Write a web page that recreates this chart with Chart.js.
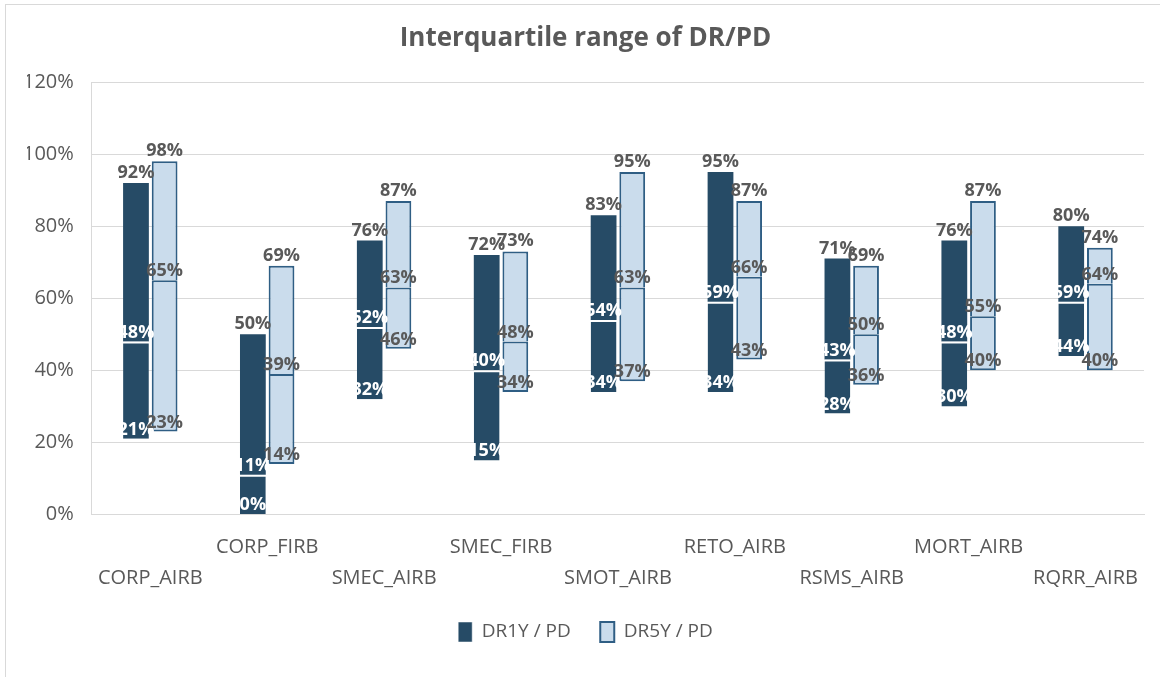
<!DOCTYPE html>
<html><head><meta charset="utf-8">
<script src="https://cdn.jsdelivr.net/npm/chart.js@4.4.1/dist/chart.umd.min.js"></script>
<style>
html,body{margin:0;padding:0;background:#fff;}
#wrap{position:relative;width:1160px;height:677px;overflow:hidden;background:#fff;}
#frame{position:absolute;left:5px;top:4px;width:1220px;height:720px;border:1px solid #d9d9d9;box-sizing:border-box;pointer-events:none;}
canvas{position:absolute;left:0;top:0;}
</style></head><body>
<div id="wrap"><canvas id="c" width="1160" height="677"></canvas><div id="frame"></div></div>
<script>
const categories = ['CORP_AIRB','CORP_FIRB','SMEC_AIRB','SMEC_FIRB','SMOT_AIRB','RETO_AIRB','RSMS_AIRB','MORT_AIRB','RQRR_AIRB'];
const seriesNames = ['DR1Y / PD','DR5Y / PD'];
const dr1yMin    = [21, 0, 32, 15, 34, 34, 28, 30, 44];
const dr1yMedian = [48, 11, 52, 40, 54, 59, 43, 48, 59];
const dr1yMax    = [92, 50, 76, 72, 83, 95, 71, 76, 80];
const dr5yMin    = [23, 14, 46, 34, 37, 43, 36, 40, 40];
const dr5yMedian = [65, 39, 63, 48, 63, 66, 50, 55, 64];
const dr5yMax    = [98, 69, 87, 73, 95, 87, 69, 87, 74];
const yTickValues = [0, 20, 40, 60, 80, 100, 120];

const DARK = '#264b66', LIGHT = '#cadcec', EDGE = '#2f5e84', GREY = '#595959';
const FONT = '"Open Sans", "Liberation Sans", sans-serif';
const pct = v => Math.round(v) + '%';

const labelPlugin = {
  id: 'iqrLabels',
  afterDatasetsDraw(chart) {
    const ctx = chart.ctx;
    ctx.save();
    ctx.font = 'bold 18px ' + FONT;
    ctx.textAlign = 'center';
    ctx.textBaseline = 'alphabetic';
    const series = [
      {lo: 0, hi: 1, min: dr1yMin, med: dr1yMedian, max: dr1yMax, inner: '#ffffff'},
      {lo: 2, hi: 3, min: dr5yMin, med: dr5yMedian, max: dr5yMax, inner: GREY}
    ];
    series.forEach(s => {
      const loMeta = chart.getDatasetMeta(s.lo), hiMeta = chart.getDatasetMeta(s.hi);
      categories.forEach((c, i) => {
        const lo = loMeta.data[i], hi = hiMeta.data[i];
        const x = lo.x;
        ctx.fillStyle = GREY;
        ctx.fillText(pct(s.max[i]), x, hi.y - 5);
        ctx.fillStyle = s.inner;
        ctx.fillText(pct(s.med[i]), x, lo.y - 4);
        ctx.fillText(pct(s.min[i]), x, lo.base - 4);
      });
    });
    ctx.restore();
  }
};

const common = {categoryPercentage: 0.49, barPercentage: 0.9, borderSkipped: false};

new Chart(document.getElementById('c'), {
  type: 'bar',
  data: {
    labels: categories,
    datasets: [
      Object.assign({label: seriesNames[0], stack: 's1', data: categories.map((c, i) => [dr1yMin[i], dr1yMedian[i]]),
        backgroundColor: DARK, borderColor: '#ffffff', borderWidth: {top: 2, bottom: 0, left: 0, right: 0}}, common),
      Object.assign({label: '_hi1', stack: 's1', data: categories.map((c, i) => [dr1yMedian[i], dr1yMax[i]]),
        backgroundColor: DARK, borderColor: DARK, borderWidth: 0}, common),
      Object.assign({label: seriesNames[1], stack: 's2', data: categories.map((c, i) => [dr5yMin[i], dr5yMedian[i]]),
        backgroundColor: LIGHT, borderColor: EDGE, borderWidth: 2}, common),
      Object.assign({label: '_hi2', stack: 's2', data: categories.map((c, i) => [dr5yMedian[i], dr5yMax[i]]),
        backgroundColor: LIGHT, borderColor: EDGE, borderWidth: {top: 2, bottom: 0, left: 2, right: 2}}, common)
    ]
  },
  options: {
    responsive: false,
    animation: false,
    devicePixelRatio: 1,
    layout: {padding: {left: 27, right: 16, top: 0, bottom: 25}},
    plugins: {
      title: {display: true, text: 'Interquartile range of DR/PD', color: GREY,
        font: {family: FONT, size: 26, weight: 'bold'}, padding: {top: 23, bottom: 27.8}},
      legend: {position: 'bottom',
        labels: {color: GREY, font: {family: FONT, size: 19}, boxWidth: 14, boxHeight: 20, padding: 29.5,
          filter: item => !item.text.startsWith('_')}},
      tooltip: {enabled: false}
    },
    scales: {
      x: {
        grid: {display: false, drawTicks: false},
        border: {display: true, color: '#d9d9d9', width: 1},
        afterFit: scale => { scale.height = scale.height - 19; },
        ticks: {color: GREY, font: {family: FONT, size: 20, lineHeight: 1.55}, padding: 17.5,
          autoSkip: false, maxRotation: 0, minRotation: 0,
          callback: (v, i) => i % 2 === 0 ? ['', categories[i]] : [categories[i], '']}
      },
      y: {
        stacked: false,
        min: 0, max: 120,
        afterBuildTicks: axis => { axis.ticks = yTickValues.map(v => ({value: v})); },
        afterFit: scale => { scale.width = scale.width - 22; },
        grid: {color: '#d9d9d9', lineWidth: 1, drawTicks: false},
        border: {display: true, color: '#d9d9d9', width: 1},
        ticks: {color: GREY, font: {family: FONT, size: 20}, padding: 18, callback: v => v + '%'}
      }
    }
  },
  plugins: [labelPlugin]
});
</script>
</body></html>
